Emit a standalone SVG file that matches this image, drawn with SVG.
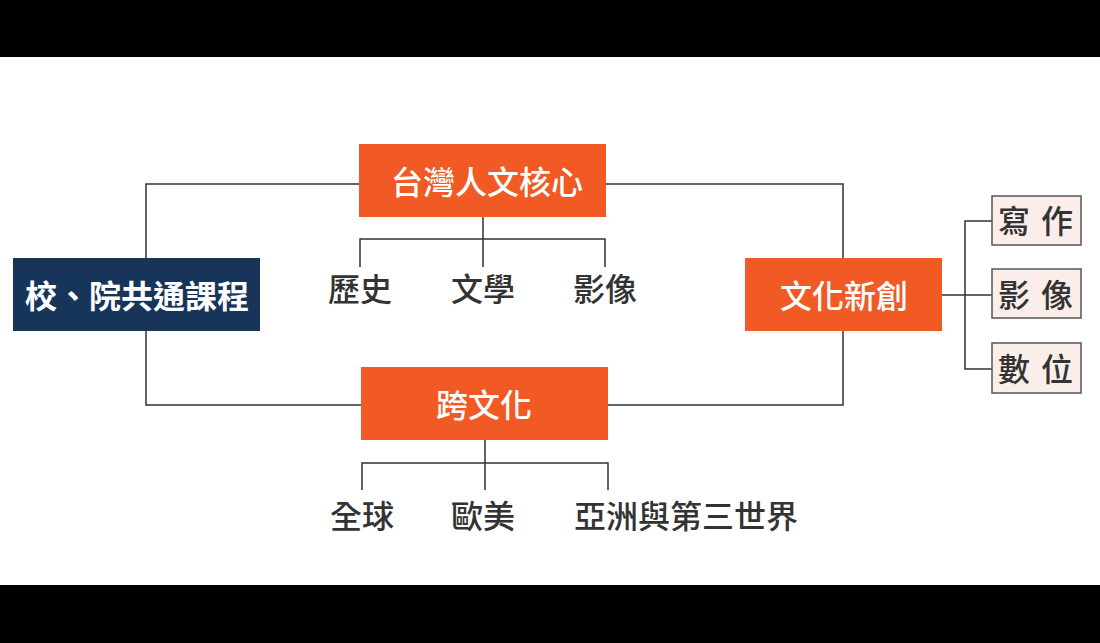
<svg xmlns="http://www.w3.org/2000/svg" width="1100" height="643" viewBox="0 0 1100 643">
<style>
.bar{fill:#000}
.org{fill:#f15a24}
.navy{fill:#17355a}
.pink{fill:#fbeeea;stroke:#555;stroke-width:1.5}
.wt{fill:#fff;font-family:"Noto Sans CJK TC","Noto Sans CJK SC",sans-serif;font-size:32px;font-weight:500;text-anchor:middle;dominant-baseline:central}
.wb{font-weight:700}
.lb{fill:#333;font-family:"Noto Sans CJK TC","Noto Sans CJK SC",sans-serif;font-size:32px;font-weight:500;text-anchor:middle;dominant-baseline:central}
.ln{fill:none;stroke:#333;stroke-width:1.5}
</style>
<rect x="0" y="0" width="1100" height="643" fill="#fff"/>
<rect class="bar" x="0" y="0" width="1100" height="57"/>
<rect class="bar" x="0" y="585" width="1100" height="58"/>
<g id="connectors" class="ln">
<polyline points="359,184 146,184 146,258"/>
<polyline points="606,184 843,184 843,258"/>
<polyline points="146,331 146,405 361,405"/>
<polyline points="608,405 843,405 843,331"/>
<line x1="483" y1="217" x2="483" y2="267"/>
<polyline points="360,267 360,239 605,239 605,267"/>
<line x1="485" y1="440" x2="485" y2="490"/>
<polyline points="362,490 362,463 608,463 608,490"/>
<line x1="942" y1="295" x2="992" y2="295"/>
<polyline points="992,221 965,221 965,369 992,369"/>
</g>
<g id="core">
<rect class="org" x="359" y="144" width="247" height="73"/>
<text class="wt" x="487" y="180">台灣人文核心</text>
</g>
<g id="common">
<rect class="navy" x="13" y="258" width="247" height="73"/>
<text class="wt wb" x="137" y="294">校、院共通課程</text>
</g>
<g id="creative">
<rect class="org" x="745" y="258" width="197" height="73"/>
<text class="wt" x="844" y="294">文化新創</text>
</g>
<g id="cross">
<rect class="org" x="361" y="367" width="247" height="73"/>
<text class="wt" x="484" y="403">跨文化</text>
</g>
<g id="history"><text class="lb" x="360" y="287">歷史</text></g>
<g id="literature"><text class="lb" x="483" y="287">文學</text></g>
<g id="image1"><text class="lb" x="605" y="287">影像</text></g>
<g id="global"><text class="lb" x="362" y="514">全球</text></g>
<g id="euro"><text class="lb" x="483" y="514">歐美</text></g>
<g id="asia"><text class="lb" x="686" y="514">亞洲與第三世界</text></g>
<g id="writing">
<rect class="pink" x="992" y="196" width="89" height="49"/>
<text class="lb" x="1036.5" y="219" letter-spacing="2">寫 作</text>
</g>
<g id="image2">
<rect class="pink" x="992" y="269" width="89" height="49"/>
<text class="lb" x="1036.5" y="293" letter-spacing="2">影 像</text>
</g>
<g id="digital">
<rect class="pink" x="992" y="343" width="89" height="50"/>
<text class="lb" x="1036.5" y="367" letter-spacing="2">數 位</text>
</g>
</svg>
